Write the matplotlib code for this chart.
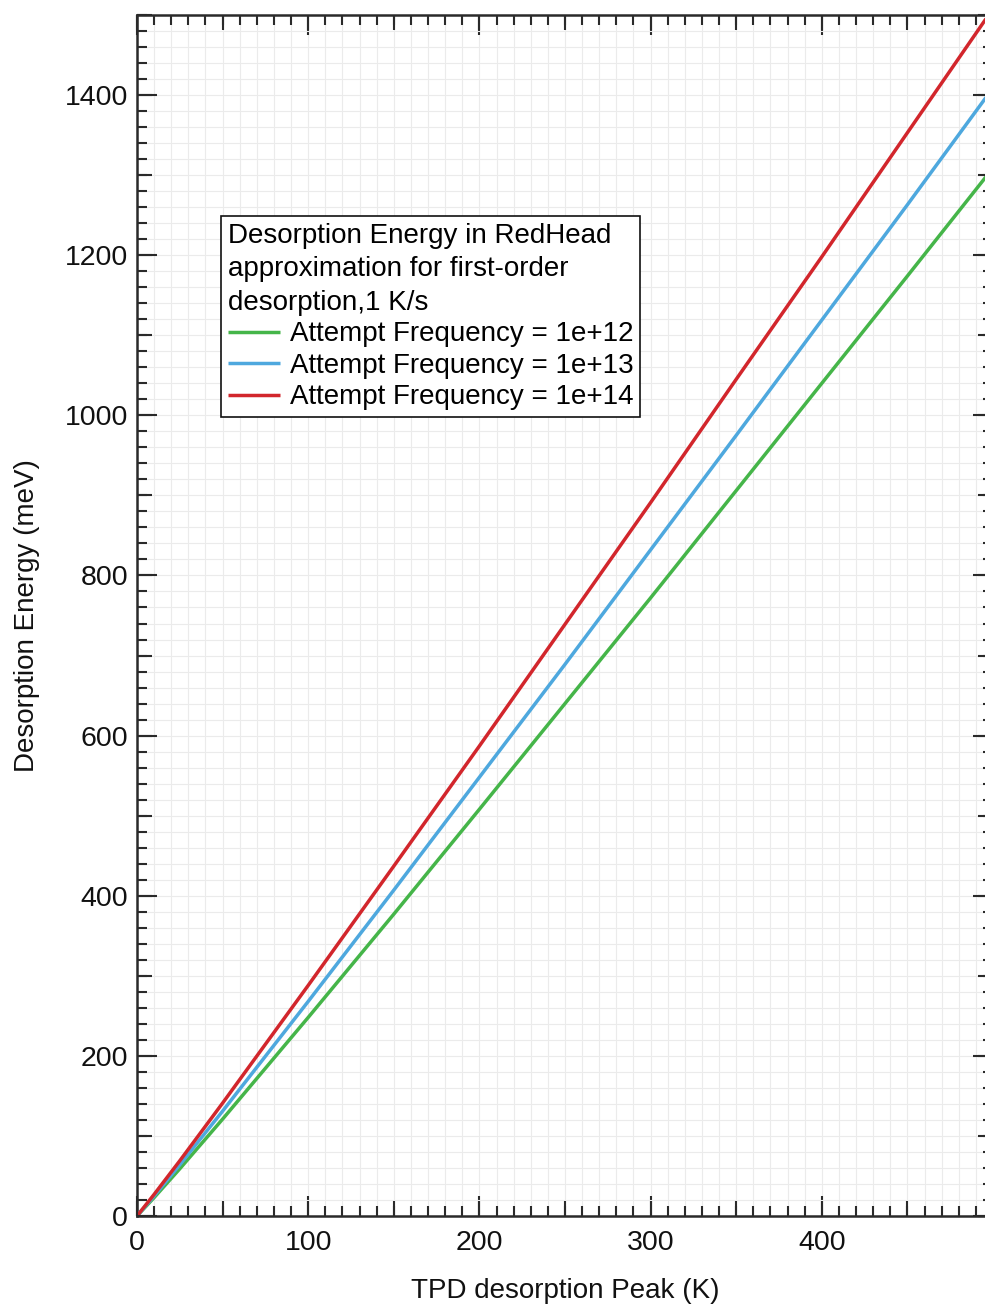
import matplotlib
matplotlib.use("Agg")
import matplotlib.pyplot as plt
from matplotlib.ticker import MultipleLocator, FuncFormatter, NullFormatter

plt.rcParams['font.family'] = ['Liberation Sans', 'DejaVu Sans']

# Data
peak_T = [0, 10, 25, 50, 100, 150, 200, 250, 300, 350, 400, 450, 500]
energy_1e12 = [0, 23, 59, 121, 248, 377, 508, 640, 772, 906, 1040, 1174, 1309]
energy_1e13 = [0, 25, 64, 131, 268, 407, 548, 689, 832, 975, 1119, 1263, 1409]
energy_1e14 = [0, 27, 69, 141, 288, 437, 587, 739, 891, 1045, 1198, 1353, 1508]
series_labels = ["Attempt Frequency = 1e+12",
                 "Attempt Frequency = 1e+13",
                 "Attempt Frequency = 1e+14"]
series_colors = ["#45b549", "#4ea8de", "#d2262c"]
legend_title = "Desorption Energy in RedHead\napproximation for first-order\ndesorption,1 K/s"
x_label = "TPD desorption Peak (K)"
y_label = "Desorption Energy (meV)"

W, H = 985, 1307
fig = plt.figure(figsize=(W / 100, H / 100), dpi=100)
x0, x1 = 137, 993
y0, y1 = 1216, 15
rect = [x0 / W, (H - y0) / H, (x1 - x0) / W, (y0 - y1) / H]
ax = fig.add_axes(rect)

for vals, lab, col in zip([energy_1e12, energy_1e13, energy_1e14], series_labels, series_colors):
    ax.plot(peak_T, vals, color=col, lw=2.5, label=lab, solid_capstyle='butt', zorder=3)

xlim = (0, 500)
ylim = (0, 1500)
ax.set_xlim(*xlim)
ax.set_ylim(*ylim)

fs = 20
tick_col = '#2a2a2a'
ax.xaxis.set_major_locator(MultipleLocator(100))
ax.xaxis.set_minor_locator(MultipleLocator(10))
ax.yaxis.set_major_locator(MultipleLocator(200))
ax.yaxis.set_minor_locator(MultipleLocator(20))
ax.xaxis.set_major_formatter(FuncFormatter(lambda v, p: f"{int(round(v))}" if v < 499 else ""))

ax.tick_params(which='both', direction='in', top=True, right=True, width=1.5, color=tick_col,
               labelsize=20.5, labelcolor='#111111')
ax.tick_params(which='major', length=14.4)
ax.tick_params(which='minor', length=7.2)
ax.tick_params(axis='x', which='major', pad=10)
ax.tick_params(axis='y', which='major', pad=6.5)

ax.grid(which='both', color='#ebebeb', lw=0.8, zorder=0)
ax.set_axisbelow(True)
for s in ax.spines.values():
    s.set_linewidth(1.8)
    s.set_color(tick_col)

ax.set_xlabel(x_label, fontsize=fs, labelpad=16, color='#111111')
ax.set_ylabel(y_label, fontsize=fs, labelpad=18, color='#111111')

# overlay axes for the medium-length ticks (every 50 K / 100 meV)
ax2 = fig.add_axes(rect, frameon=False)
ax2.set_xlim(*xlim)
ax2.set_ylim(*ylim)
ax2.patch.set_visible(False)
ax2.xaxis.set_major_locator(MultipleLocator(50))
ax2.yaxis.set_major_locator(MultipleLocator(100))
ax2.xaxis.set_major_formatter(NullFormatter())
ax2.yaxis.set_major_formatter(NullFormatter())
ax2.tick_params(which='major', direction='in', top=True, right=True, length=10.8, width=1.5,
                color=tick_col)
ax2.tick_params(which='minor', length=0)

leg = ax.legend(title=legend_title, loc='upper left', bbox_to_anchor=(0.098, 0.8326),
                borderaxespad=0, fontsize=fs, title_fontsize=fs, frameon=True, fancybox=False,
                edgecolor='#111111', framealpha=1, handlelength=1.87, handletextpad=0.36,
                labelspacing=0.2, borderpad=0.25, alignment='left')
leg.get_frame().set_linewidth(1.2)
leg.get_title().set_linespacing(1.37)
leg.set_zorder(5)

fig.savefig("out.png", dpi=100)
